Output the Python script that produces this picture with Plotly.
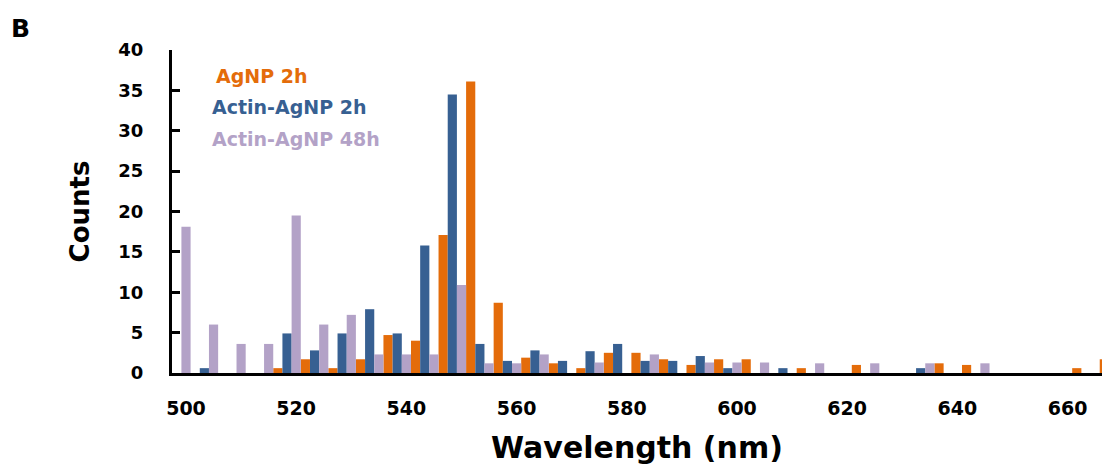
import plotly.graph_objects as go

# ---- data ----
wavelengths = [500, 505, 510, 515, 520, 525, 530, 535, 540, 545, 550, 555, 560, 565, 570, 575, 580,
               585, 590, 595, 600, 605, 610, 615, 620, 625, 630, 635, 640, 645, 650, 655, 660, 665, 670]
agnp_2h = [0, 0, 0, 0, 0.6, 1.7, 0.6, 1.7, 4.7, 4.0, 17.1, 36.1, 8.7, 1.9, 1.2, 0.6, 2.5,
           2.5, 1.7, 1.0, 1.7, 1.7, 0, 0.6, 0, 1.0, 0, 0, 1.2, 1.0, 0, 0, 0, 0.6, 1.7]
actin_agnp_2h = [0, 0.6, 0, 0, 4.9, 2.8, 4.9, 7.9, 4.9, 15.8, 34.5, 3.6, 1.5, 2.8, 1.5, 2.7, 3.6,
                 1.5, 1.5, 2.1, 0.6, 0, 0.6, 0, 0, 0, 0, 0.6, 0, 0, 0, 0, 0, 0, 0]
actin_agnp_48h = [18.1, 6.0, 3.6, 3.6, 19.5, 6.0, 7.2, 2.3, 2.3, 2.3, 10.9, 1.2, 1.2, 2.3, 0, 1.3, 0,
                  2.3, 0, 1.3, 1.3, 1.3, 0, 1.2, 0, 1.2, 0, 1.2, 0, 1.2, 0, 0, 0, 0, 0]
series_names = ["AgNP 2h", "Actin-AgNP 2h", "Actin-AgNP 48h"]
x_tick_values = [500, 520, 540, 560, 580, 600, 620, 640, 660]
y_tick_values = [0, 5, 10, 15, 20, 25, 30, 35, 40]

# ---- style ----
colors = ["#E46C0A", "#376092", "#B3A2C7"]
FONT = "DejaVu Sans"
step = 5.0
bw = step / 3.0
offsets = [-bw / 2 - 2 * bw, -bw / 2 - bw, -bw / 2]

L, R, T, B = 172, 1102, 50, 373
W, H = 1102, 468


def pxx(xp):
    return (xp - L) / (R - L)


def pxy(yp):
    return (B - yp) / (B - T)


fig = go.Figure()
for name, vals, col, off in zip(series_names, [agnp_2h, actin_agnp_2h, actin_agnp_48h], colors, offsets):
    fig.add_trace(go.Bar(
        x=wavelengths, y=vals, name=name, width=bw, offset=off,
        marker=dict(color=col, line=dict(width=0)), showlegend=False,
    ))

x_min = 500 - (186 - L) / 5.51
x_max = 500 + (R - 186) / 5.51

fig.update_layout(
    width=W, height=H,
    margin=dict(l=L, r=W - R, t=T, b=H - B, pad=0),
    paper_bgcolor="white", plot_bgcolor="white",
    barmode="overlay",
    font=dict(family=FONT, color="black"),
    xaxis=dict(
        range=[x_min, x_max], tickvals=x_tick_values, ticktext=[str(v) for v in x_tick_values],
        showline=True, linecolor="black", linewidth=3, ticks="", showgrid=False, zeroline=False,
        tickfont=dict(family=FONT, size=19, weight=700, color="black"),
        ticklabelstandoff=16,
        title=dict(text="Wavelength (nm)", font=dict(family=FONT, size=30, weight=700, color="black"),
                   standoff=20),
    ),
    yaxis=dict(
        range=[0, 40], tickvals=y_tick_values,
        showline=True, linecolor="black", linewidth=3, ticks="inside", ticklen=8, tickwidth=3,
        tickcolor="black", showgrid=False, zeroline=False,
        tickfont=dict(family=FONT, size=18, weight=700, color="black"),
        ticklabelstandoff=22,
        title=dict(text="Counts", font=dict(family=FONT, size=26, weight=700, color="black"),
                   standoff=22),
    ),
)

legend_pos = [(214, 76), (210, 107), (210, 139)]
for name, col, (lx, ly) in zip(series_names, colors, legend_pos):
    fig.add_annotation(text=name, xref="paper", yref="paper", x=pxx(lx), y=pxy(ly),
                       xanchor="left", yanchor="middle", showarrow=False,
                       font=dict(family=FONT, size=19, weight=700, color=col))

fig.add_annotation(text="B", xref="paper", yref="paper", x=pxx(9), y=pxy(29),
                   xanchor="left", yanchor="middle", showarrow=False,
                   font=dict(family=FONT, size=25, weight=700, color="black"))

fig.write_html("out.html")
